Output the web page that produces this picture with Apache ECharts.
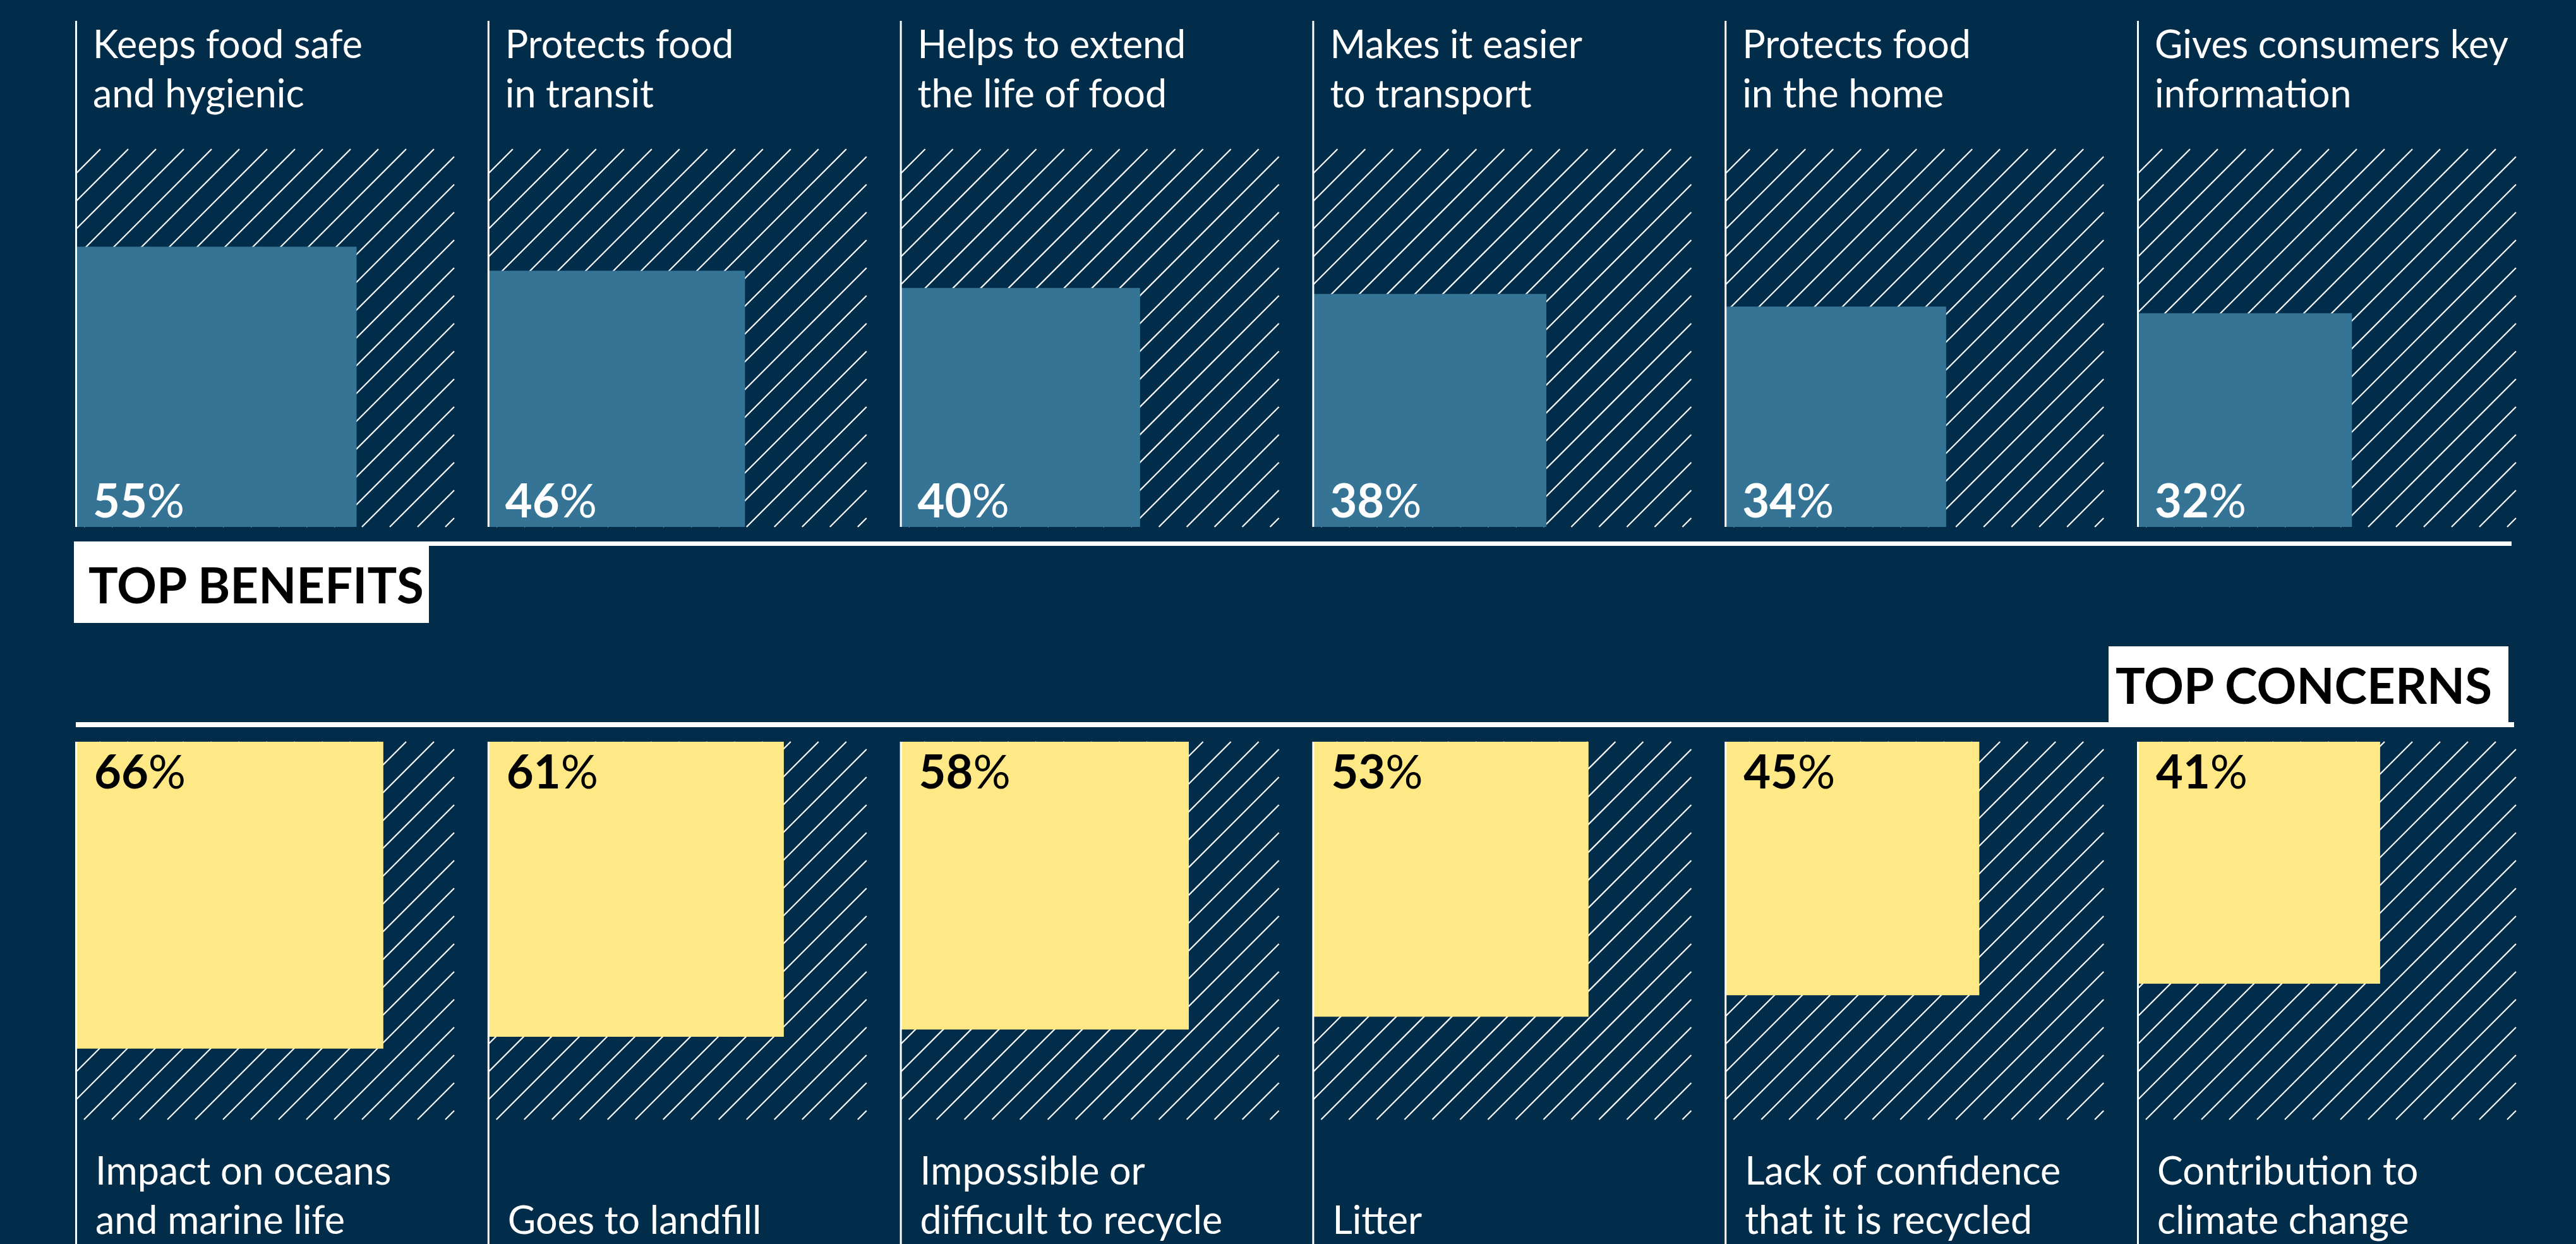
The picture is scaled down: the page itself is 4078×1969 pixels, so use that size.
<!DOCTYPE html>
<html>
<head>
<meta charset="utf-8">
<script src="https://cdn.jsdelivr.net/npm/echarts@6/dist/echarts.min.js"></script>
<style>
html,body{margin:0;padding:0;background:#022d4a;}
#chart{width:4078px;height:1969px;}
</style>
</head>
<body>
<div id="chart"></div>
<script>
// ---- data ----
const benefitLabels = ['Keeps food safe\nand hygienic', 'Protects food\nin transit', 'Helps to extend\nthe life of food', 'Makes it easier\nto transport', 'Protects food\nin the home', 'Gives consumers key\ninformation'];
const benefitValues = [55, 46, 40, 38, 34, 32];
const concernLabels = ['Impact on oceans\nand marine life', 'Goes to landfill', 'Impossible or\ndifficult to recycle', 'Litter', 'Lack of confidence\nthat it is recycled', 'Contribution to\nclimate change'];
const concernValues = [66, 61, 58, 53, 45, 41];
const sectionTitles = ['TOP BENEFITS', 'TOP CONCERNS'];

// ---- styling / layout ----
const BG = '#022d4a';
const BLUE = '#367496';
const YELLOW = '#ffe886';
const FONT = 'Lato, "Open Sans", sans-serif';
const PANEL_LEFT = 121, PANEL_STEP = 652.8, BOX = 598;
const TOP_BOX_TOP = 236, BOT_BOX_TOP = 1174;
const HATCH_STEP = 44, HATCH_PHASE = 38;

function hatch(L, T, R, B) {
  const out = [];
  for (let c = L + T + HATCH_PHASE; c < R + B; c += HATCH_STEP) {
    const x1 = Math.max(L, c - B), x2 = Math.min(R, c - T);
    if (x2 - x1 < 0.5) continue;
    out.push({type: 'line', shape: {x1: x1, y1: c - x1, x2: x2, y2: c - x2},
      style: {stroke: '#ffffff', lineWidth: 2.2, lineCap: 'butt'}, silent: true});
  }
  return out;
}

function pctText(v, color) {
  return {
    text: '{b|' + v + '}{r|%}',
    rich: {
      b: {fontFamily: FONT, fontWeight: 'bold', fontSize: 74, fill: color, lineHeight: 74},
      r: {fontFamily: FONT, fontWeight: 'normal', fontSize: 74, fill: color, lineHeight: 74}
    },
    verticalAlign: 'middle', align: 'left'
  };
}

function renderTop(label) {
  return function (params, api) {
    const v = api.value(0);
    const s = Math.sqrt(v / 100);
    const bl = api.coord([0, 0]), tr = api.coord([1, 1]), q = api.coord([s, s]);
    const L = bl[0], B = bl[1], R = tr[0], T = tr[1];
    const children = hatch(L, T, R, B);
    children.push({type: 'rect', shape: {x: L, y: q[1], width: q[0] - L, height: B - q[1]}, style: {fill: BLUE}});
    children.push({type: 'line', shape: {x1: L - 0.5, y1: T - 203, x2: L - 0.5, y2: B}, style: {stroke: '#fff', lineWidth: 3}});
    children.push({type: 'text', x: L + 26, y: B - 44, style: pctText(v, '#ffffff')});
    children.push({type: 'text', x: L + 26, y: T - 207, style: {
      text: label, fill: '#ffffff', fontFamily: FONT, fontSize: 61, lineHeight: 78,
      align: 'left', verticalAlign: 'top'}});
    return {type: 'group', children: children};
  };
}

function renderBottom(label) {
  return function (params, api) {
    const v = api.value(0);
    const s = Math.sqrt(v / 100);
    const tl = api.coord([0, 0]), br = api.coord([1, 1]), q = api.coord([s, s]);
    const L = tl[0], T = tl[1], R = br[0], B = br[1];
    const children = hatch(L, T, R, B);
    children.push({type: 'rect', shape: {x: L, y: T, width: q[0] - L, height: q[1] - T}, style: {fill: YELLOW}});
    children.push({type: 'line', shape: {x1: L - 0.5, y1: T, x2: L - 0.5, y2: T + 800}, style: {stroke: '#fff', lineWidth: 3}});
    children.push({type: 'text', x: L + 28, y: T + 45, style: pctText(v, '#000000')});
    children.push({type: 'text', x: L + 30, y: B + 196, style: {
      text: label, fill: '#ffffff', fontFamily: FONT, fontSize: 61, lineHeight: 78,
      align: 'left', verticalAlign: 'bottom'}});
    return {type: 'group', children: children};
  };
}

const grids = [], xAxes = [], yAxes = [], series = [];
for (let i = 0; i < 6; i++) {
  const left = PANEL_LEFT + i * PANEL_STEP;
  grids.push({left: left, top: TOP_BOX_TOP, width: BOX, height: BOX});
  xAxes.push({type: 'value', min: 0, max: 1, show: false, gridIndex: i});
  yAxes.push({type: 'value', min: 0, max: 1, show: false, gridIndex: i});
  series.push({type: 'custom', coordinateSystem: 'cartesian2d', xAxisIndex: i, yAxisIndex: i,
    clip: false, silent: true, animation: false,
    data: [[benefitValues[i], benefitValues[i]]], renderItem: renderTop(benefitLabels[i])});
}
for (let i = 0; i < 6; i++) {
  const left = PANEL_LEFT + i * PANEL_STEP;
  const g = 6 + i;
  grids.push({left: left, top: BOT_BOX_TOP, width: BOX, height: BOX});
  xAxes.push({type: 'value', min: 0, max: 1, show: false, gridIndex: g});
  yAxes.push({type: 'value', min: 0, max: 1, show: false, inverse: true, gridIndex: g});
  series.push({type: 'custom', coordinateSystem: 'cartesian2d', xAxisIndex: g, yAxisIndex: g,
    clip: false, silent: true, animation: false,
    data: [[concernValues[i], concernValues[i]]], renderItem: renderBottom(concernLabels[i])});
}

const chart = echarts.init(document.getElementById('chart'), null, {renderer: 'svg', width: 4078, height: 1969});
chart.setOption({
  backgroundColor: BG,
  animation: false,
  grid: grids,
  xAxis: xAxes,
  yAxis: yAxes,
  series: series,
  graphic: [
    {type: 'rect', left: 117, top: 857, shape: {width: 3859, height: 7}, style: {fill: '#fff'}, silent: true},
    {type: 'rect', left: 117, top: 857, shape: {width: 562, height: 129}, style: {fill: '#fff'}, silent: true},
    {type: 'text', x: 140, y: 925, style: {text: sectionTitles[0], fill: '#000', fontFamily: FONT, fontWeight: 'bold',
      fontSize: 78, verticalAlign: 'middle', align: 'left'}, silent: true},
    {type: 'rect', left: 120, top: 1143, shape: {width: 3860, height: 8}, style: {fill: '#fff'}, silent: true},
    {type: 'rect', left: 3338, top: 1023, shape: {width: 633, height: 125}, style: {fill: '#fff'}, silent: true},
    {type: 'text', x: 3945, y: 1084, style: {text: sectionTitles[1], fill: '#000', fontFamily: FONT, fontWeight: 'bold',
      fontSize: 78, verticalAlign: 'middle', align: 'right'}, silent: true}
  ]
});
</script>
</body>
</html>
